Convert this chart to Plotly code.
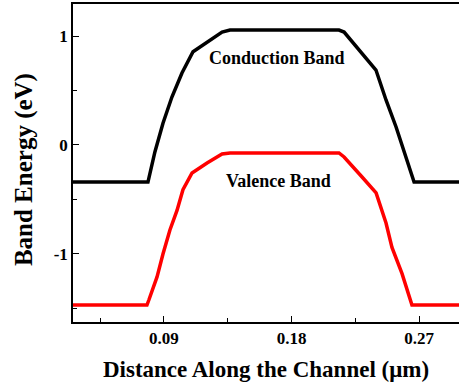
import plotly.graph_objects as go

# Conduction band (eV) vs distance (um)
cb_x = [0.0258, 0.0787, 0.0836, 0.0893, 0.0956, 0.1027, 0.1105, 0.1204, 0.1310, 0.1366,
        0.2135, 0.2171, 0.2396, 0.2467, 0.2538, 0.2665, 0.2982]
cb_y = [-0.34, -0.34, -0.064, 0.20, 0.44, 0.66, 0.855, 0.945, 1.036, 1.055,
        1.055, 1.036, 0.688, 0.413, 0.165, -0.34, -0.34]

# Valence band
vb_x = [0.0258, 0.0780, 0.0794, 0.0851, 0.0893, 0.0942, 0.0992, 0.1034, 0.1098, 0.1204,
        0.1310, 0.1366, 0.2135, 0.2171, 0.2298, 0.2397, 0.2467, 0.2509, 0.2580, 0.2650, 0.2982]
vb_y = [-1.468, -1.468, -1.42, -1.21, -1.0, -0.78, -0.60, -0.41, -0.257, -0.165,
        -0.083, -0.073, -0.073, -0.11, -0.294, -0.44, -0.716, -0.94, -1.18, -1.468, -1.468]

x_ticks = [0.09, 0.18, 0.27]
x_ticklabels = ["0.09", "0.18", "0.27"]
y_ticks = [-1, 0, 1]
y_ticklabels = ["-1", "0", "1"]

FONT = "Liberation Serif, Times New Roman, serif"

fig = go.Figure()
fig.add_trace(go.Scatter(x=cb_x, y=cb_y, mode="lines",
                         line=dict(color="black", width=3.5), name="Conduction Band"))
fig.add_trace(go.Scatter(x=vb_x, y=vb_y, mode="lines",
                         line=dict(color="#ff0000", width=3.5), name="Valence Band"))

fig.add_annotation(x=0.1698, y=0.80, text="Conduction Band", showarrow=False,
                   font=dict(family=FONT, size=18, color="black", weight="bold"))
fig.add_annotation(x=0.1705, y=-0.33, text="Valence Band", showarrow=False,
                   font=dict(family=FONT, size=18, color="black", weight="bold"))

# y-axis title placed as rotated annotation
fig.add_annotation(xref="paper", yref="paper", x=-0.125, y=0.48, xanchor="center",
                   yanchor="middle", text="Band Energy (eV)", textangle=-90,
                   showarrow=False,
                   font=dict(family=FONT, size=25, color="black", weight="bold"))

fig.update_layout(
    width=459, height=389,
    margin=dict(l=73, r=0, t=4, b=67),
    plot_bgcolor="white", paper_bgcolor="white",
    showlegend=False,
    font=dict(family=FONT, color="black"),
)
fig.update_xaxes(
    range=[0.0258, 0.2982], showgrid=False, zeroline=False,
    showline=True, linecolor="black", linewidth=1.5, mirror=True,
    tickmode="array", tickvals=x_ticks, ticktext=x_ticklabels,
    ticks="inside", ticklen=6, tickwidth=1, tickcolor="black",
    tickfont=dict(family=FONT, size=17, color="black", weight="bold"),
    minor=dict(tickmode="array", tickvals=[0.045, 0.135, 0.225],
               ticks="inside", ticklen=4, tickwidth=1, tickcolor="black"),
    title=dict(text="Distance Along the Channel (μm)", standoff=14,
               font=dict(family=FONT, size=23, color="black", weight="bold")),
)
fig.update_yaxes(
    range=[-1.624, 1.2936], showgrid=False, zeroline=False,
    showline=True, linecolor="black", linewidth=1.5,
    tickmode="array", tickvals=y_ticks, ticktext=y_ticklabels,
    ticks="inside", ticklen=6, tickwidth=1, tickcolor="black",
    tickfont=dict(family=FONT, size=17, color="black", weight="bold"),
    minor=dict(tickmode="array", tickvals=[-1.5, -0.5, 0.5],
               ticks="inside", ticklen=4, tickwidth=1, tickcolor="black"),
)

fig.write_html("out.html")
